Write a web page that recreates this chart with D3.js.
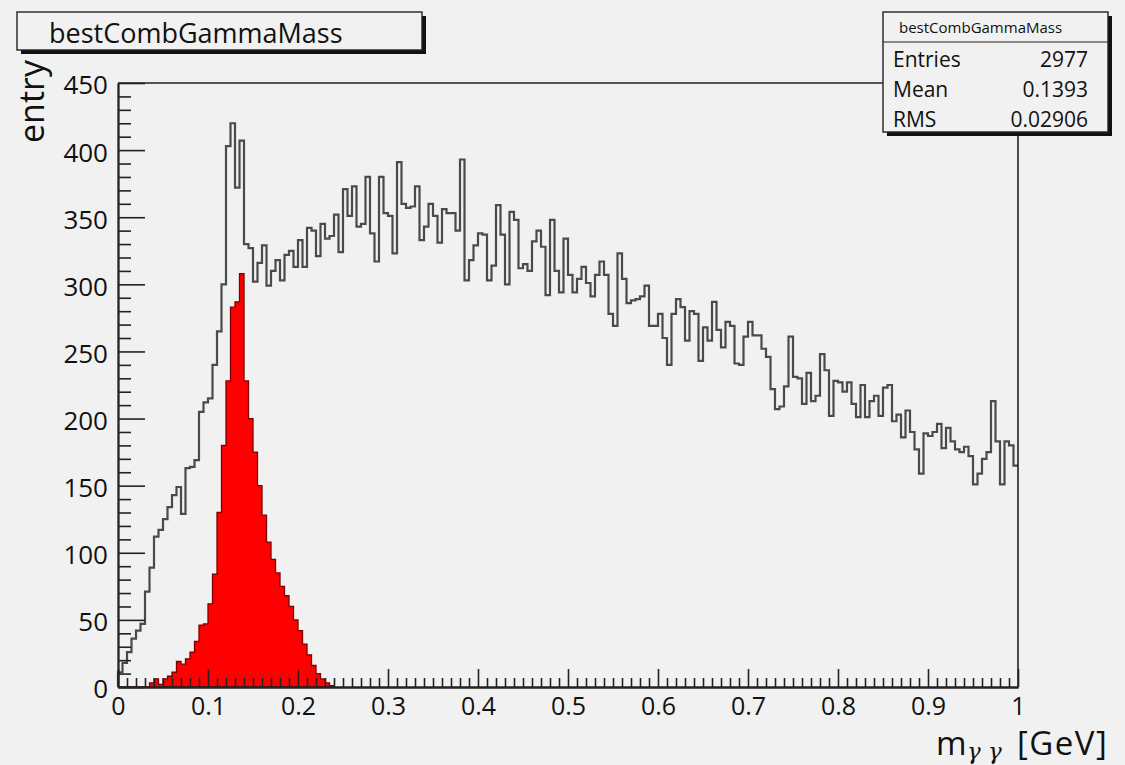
<!DOCTYPE html>
<html>
<head>
<meta charset="utf-8">
<script src="https://cdn.jsdelivr.net/npm/d3@7"></script>
<style>
  html, body { margin: 0; padding: 0; background: #f1f1f1; }
  svg { display: block; }
  text { font-family: "Open Sans", "Noto Sans", sans-serif; fill: #111; }
</style>
</head>
<body>
<svg id="chart" width="1125" height="765"></svg>
<script>
// ---- data ---------------------------------------------------------------
const histTitle = "bestCombGammaMass";
const xRange = [0, 1];          // GeV
const nBins = 200;
const yRange = [0, 450];

// all photon-pair combinations (entries per 5 MeV bin)
const allCombos = [
  11, 18, 26, 36, 42, 47, 71, 89, 112, 117,
  125, 134, 143, 149, 129, 163, 164, 169, 205, 212,
  215, 240, 265, 300, 403, 420, 372, 407, 330, 327,
  302, 316, 329, 299, 310, 318, 303, 322, 325, 313,
  333, 313, 342, 340, 321, 345, 334, 336, 352, 324,
  371, 351, 373, 343, 345, 380, 338, 317, 380, 353,
  351, 323, 391, 360, 357, 358, 373, 333, 343, 360,
  351, 331, 356, 353, 353, 340, 393, 303, 318, 329,
  338, 337, 303, 314, 359, 337, 300, 354, 348, 312,
  315, 310, 332, 340, 328, 292, 348, 310, 294, 334,
  307, 294, 304, 313, 301, 291, 307, 317, 307, 278,
  269, 323, 304, 286, 288, 289, 291, 299, 269, 269,
  278, 260, 240, 278, 289, 283, 258, 280, 278, 243,
  268, 258, 287, 266, 253, 272, 269, 241, 240, 261,
  272, 262, 262, 252, 246, 222, 207, 209, 224, 261,
  231, 230, 211, 234, 213, 217, 248, 236, 202, 228,
  227, 220, 227, 211, 201, 225, 201, 213, 217, 202,
  223, 225, 198, 203, 186, 206, 190, 177, 159, 189,
  187, 190, 196, 178, 193, 183, 177, 175, 179, 172,
  151, 159, 170, 175, 213, 183, 151, 183, 180, 165
];

// best combination per event (bins beyond the list are empty)
const bestComb = [
  0, 0, 0, 0, 0, 0, 0, 3, 6, 2,
  6, 8, 11, 19, 17, 21, 26, 34, 46, 47,
  62, 84, 130, 180, 228, 283, 287, 308, 228, 200,
  175, 150, 128, 108, 95, 85, 75, 68, 60, 50,
  42, 32, 24, 16, 10, 6, 3, 1
];

const xTickLabels = ["0", "0.1", "0.2", "0.3", "0.4", "0.5", "0.6", "0.7", "0.8", "0.9", "1"];
const yTickLabels = ["0", "50", "100", "150", "200", "250", "300", "350", "400", "450"];
const statNames = ["Entries", "Mean", "RMS"];
const statValues = ["2977", "0.1393", "0.02906"];

// ---- layout -------------------------------------------------------------
const frame = { left: 118, right: 1018, top: 83, bottom: 687 };
const svg = d3.select("#chart");

const x = d3.scaleLinear().domain(xRange).range([frame.left, frame.right]);
const y = d3.scaleLinear().domain(yRange).range([frame.bottom, frame.top]);
const binWidth = (xRange[1] - xRange[0]) / nBins;
const edge = i => xRange[0] + i * binWidth;

svg.append("rect").attr("width", 1125).attr("height", 765).attr("fill", "#f1f1f1");

// ---- histograms ---------------------------------------------------------
const redPts = bestComb.map((v, i) => ({ x: edge(i), v }));
redPts.push({ x: edge(bestComb.length), v: 0 });

svg.append("path")
  .datum(redPts)
  .attr("fill", "#ff0000")
  .attr("stroke", "#7d0000")
  .attr("stroke-width", 1.3)
  .attr("d", d3.area()
    .curve(d3.curveStepAfter)
    .x(d => x(d.x))
    .y0(y(0))
    .y1(d => y(d.v)));

const blackPts = [{ x: edge(0), v: 0 }]
  .concat(allCombos.map((v, i) => ({ x: edge(i), v })))
  .concat([{ x: edge(nBins), v: allCombos[nBins - 1] }]);

svg.append("path")
  .datum(blackPts)
  .attr("fill", "none")
  .attr("stroke", "#4a4a4a")
  .attr("stroke-width", 2.2)
  .attr("stroke-linejoin", "miter")
  .attr("d", d3.line()
    .curve(d3.curveStepAfter)
    .x(d => x(d.x))
    .y(d => y(d.v)));

// ---- axes ---------------------------------------------------------------
const axisColor = "#222";
const xMajor = xTickLabels.map(Number);
const xMinor = d3.range(0, 101).map(i => i / 100).filter(v => !xMajor.some(m => Math.abs(m - v) < 1e-9));
const yMajor = yTickLabels.map(Number);
const yMinor = d3.range(0, 451, 10).filter(v => v % 50 !== 0);

const gxMinor = svg.append("g").attr("transform", `translate(0,${frame.bottom})`)
  .call(d3.axisBottom(x).tickValues(xMinor).tickSizeInner(-9).tickSizeOuter(0).tickFormat(""));
const gx = svg.append("g").attr("transform", `translate(0,${frame.bottom})`)
  .call(d3.axisBottom(x).tickValues(xMajor).tickSizeInner(-18).tickSizeOuter(0)
    .tickPadding(10).tickFormat((d, i) => xTickLabels[i]));

const gyMinor = svg.append("g").attr("transform", `translate(${frame.left},0)`)
  .call(d3.axisLeft(y).tickValues(yMinor).tickSizeInner(-13).tickSizeOuter(0).tickFormat(""));
const gy = svg.append("g").attr("transform", `translate(${frame.left},0)`)
  .call(d3.axisLeft(y).tickValues(yMajor).tickSizeInner(-27).tickSizeOuter(0)
    .tickPadding(10).tickFormat((d, i) => yTickLabels[i]));

[gxMinor, gx, gyMinor, gy].forEach(g => {
  g.selectAll("line").attr("stroke", axisColor).attr("stroke-width", 1.6);
  g.select(".domain").attr("stroke", axisColor).attr("stroke-width", 1.8);
  g.selectAll("text")
    .style("font-family", '"Open Sans", "Noto Sans", sans-serif')
    .attr("fill", "#111");
});
gx.selectAll("text").style("font-size", "25px");
gy.selectAll("text").style("font-size", "26px").attr("dy", "0.42em");

// frame top and right edges
svg.append("path")
  .attr("d", `M${frame.left},${frame.top}H${frame.right}V${frame.bottom}`)
  .attr("fill", "none").attr("stroke", axisColor).attr("stroke-width", 1.6);

// ---- axis titles --------------------------------------------------------
svg.append("text")
  .attr("transform", "translate(44,143) rotate(-90)")
  .attr("text-anchor", "start")
  .style("font-size", "34px")
  .text("entry");

const xt = svg.append("text").style("font-size", "33px");
xt.append("tspan").attr("x", 936).attr("y", 755).text("m");
xt.append("tspan").attr("x", 967).attr("y", 759).style("font-size", "23px")
  .style("font-style", "italic").style("font-family", '"DejaVu Serif", serif').text("γ γ");
xt.append("tspan").attr("x", 1017).attr("y", 755)
  .style("letter-spacing", "1.5px").text("[GeV]");

// ---- title box ----------------------------------------------------------
function shadowBox(x0, y0, w, h, off) {
  svg.append("rect").attr("x", x0 + off).attr("y", y0 + off).attr("width", w).attr("height", h)
    .attr("fill", "#111");
  svg.append("rect").attr("x", x0).attr("y", y0).attr("width", w).attr("height", h)
    .attr("fill", "#f1f1f1").attr("stroke", "#222").attr("stroke-width", 1.4);
}

shadowBox(17, 12, 405, 38, 4);
svg.append("text").attr("x", 49).attr("y", 43).style("font-size", "27px").text(histTitle);

// ---- statistics box -----------------------------------------------------
shadowBox(883, 12, 225, 120, 4);
svg.append("line").attr("x1", 883).attr("x2", 1108).attr("y1", 42).attr("y2", 42)
  .attr("stroke", "#222").attr("stroke-width", 1.2);
svg.append("text").attr("x", 899).attr("y", 33).style("font-size", "15px").attr("fill", "#222")
  .text(histTitle);

const rowY = d3.scaleLinear().domain([0, 2]).range([67, 127]);
statNames.forEach((name, i) => {
  svg.append("text").attr("x", 893).attr("y", rowY(i)).style("font-size", "21px").text(name);
  svg.append("text").attr("x", 1088).attr("y", rowY(i)).attr("text-anchor", "end")
    .style("font-size", "21px").text(statValues[i]);
});
</script>
</body>
</html>
